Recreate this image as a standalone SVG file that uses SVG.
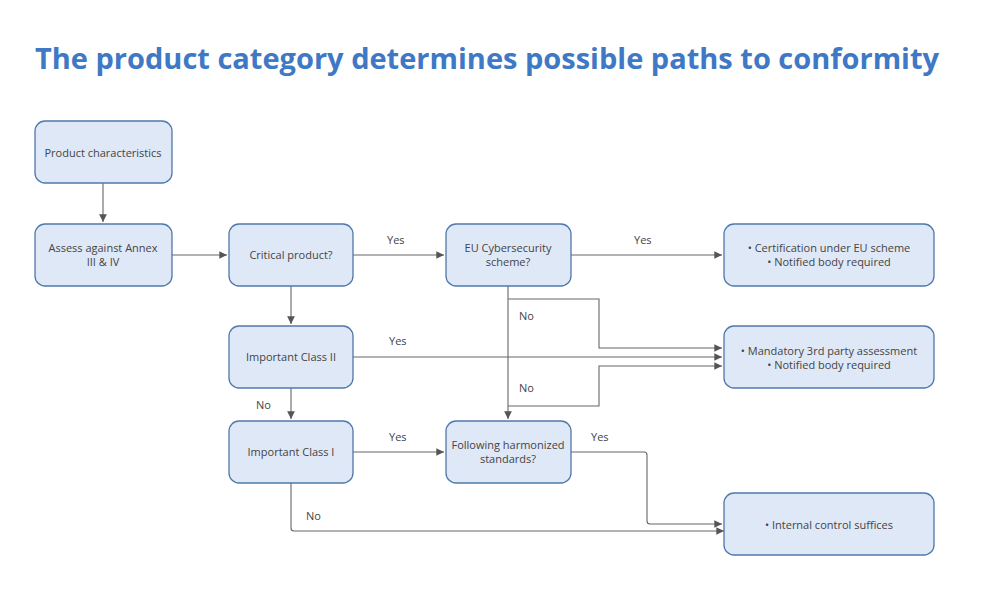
<svg xmlns="http://www.w3.org/2000/svg" width="1000" height="613" viewBox="0 0 1000 613">
<defs>
<style>
.n rect{fill:#dfe8f7;stroke:#4f78ab;stroke-width:1.3}
.n text,.l{font-family:"Open Sans","Liberation Sans",sans-serif;font-size:11px;fill:#444;text-anchor:middle}
.l{text-anchor:start}
.c path{fill:none;stroke:#666;stroke-width:1.1}
</style>
<marker id="a" viewBox="0 0 10 10" refX="10" refY="5" markerWidth="7" markerHeight="7" orient="auto"><path d="M0,0L10,5L0,10z" fill="#555"/></marker>
</defs>
<rect width="1000" height="613" fill="#fff"/>
<text x="35" y="69" font-family="'Open Sans','Liberation Sans',sans-serif" font-size="29" font-weight="bold" fill="#3f78c4">The product category determines possible paths to conformity</text>
<g class="c">
<path d="M103,183V222" marker-end="url(#a)"/>
<path d="M172,255H227" marker-end="url(#a)"/>
<path d="M353,255H444" marker-end="url(#a)"/>
<path d="M571,255H722" marker-end="url(#a)"/>
<path d="M291,286V324" marker-end="url(#a)"/>
<path d="M291,388V419" marker-end="url(#a)"/>
<path d="M508,286V419" marker-end="url(#a)"/>
<path d="M508,299H599V348H722" marker-end="url(#a)"/>
<path d="M353,357H722" marker-end="url(#a)"/>
<path d="M508,406H599V366H722" marker-end="url(#a)"/>
<path d="M353,452H444" marker-end="url(#a)"/>
<path d="M571,452H644Q647,452 647,455V521Q647,524 650,524H722" marker-end="url(#a)"/>
<path d="M291,483V528Q291,531 294,531H724" marker-end="url(#a)"/>
</g>
<g class="lbls">
<text class="l" x="387" y="244">Yes</text>
<text class="l" x="634" y="244">Yes</text>
<text class="l" x="519" y="320">No</text>
<text class="l" x="389" y="345">Yes</text>
<text class="l" x="519" y="392">No</text>
<text class="l" x="256" y="409">No</text>
<text class="l" x="389" y="441">Yes</text>
<text class="l" x="591" y="441">Yes</text>
<text class="l" x="306" y="520">No</text>
</g>
<g id="n1" class="n"><rect x="35" y="121" width="137" height="62" rx="10"/><text x="103" y="157">Product characteristics</text></g>
<g id="n2" class="n"><rect x="35" y="224" width="137" height="62" rx="10"/><text x="103" y="252">Assess against Annex</text><text x="103" y="266">III &amp; IV</text></g>
<g id="n3" class="n"><rect x="229" y="224" width="124" height="62" rx="10"/><text x="291" y="259">Critical product?</text></g>
<g id="n4" class="n"><rect x="229" y="326" width="124" height="62" rx="10"/><text x="291" y="361">Important Class II</text></g>
<g id="n5" class="n"><rect x="229" y="421" width="124" height="62" rx="10"/><text x="291" y="456">Important Class I</text></g>
<g id="n6" class="n"><rect x="446" y="224" width="125" height="62" rx="10"/><text x="508" y="252">EU Cybersecurity</text><text x="508" y="266">scheme?</text></g>
<g id="n7" class="n"><rect x="446" y="421" width="125" height="62" rx="10"/><text x="508" y="449">Following harmonized</text><text x="508" y="463">standards?</text></g>
<g id="n8" class="n"><rect x="724" y="224" width="210" height="62" rx="10"/><text x="829" y="252">• Certification under EU scheme</text><text x="829" y="266">• Notified body required</text></g>
<g id="n9" class="n"><rect x="724" y="326" width="210" height="62" rx="10"/><text x="829" y="355">• Mandatory 3rd party assessment</text><text x="829" y="369">• Notified body required</text></g>
<g id="n10" class="n"><rect x="724" y="493" width="210" height="62" rx="10"/><text x="829" y="529">• Internal control suffices</text></g>
</svg>
